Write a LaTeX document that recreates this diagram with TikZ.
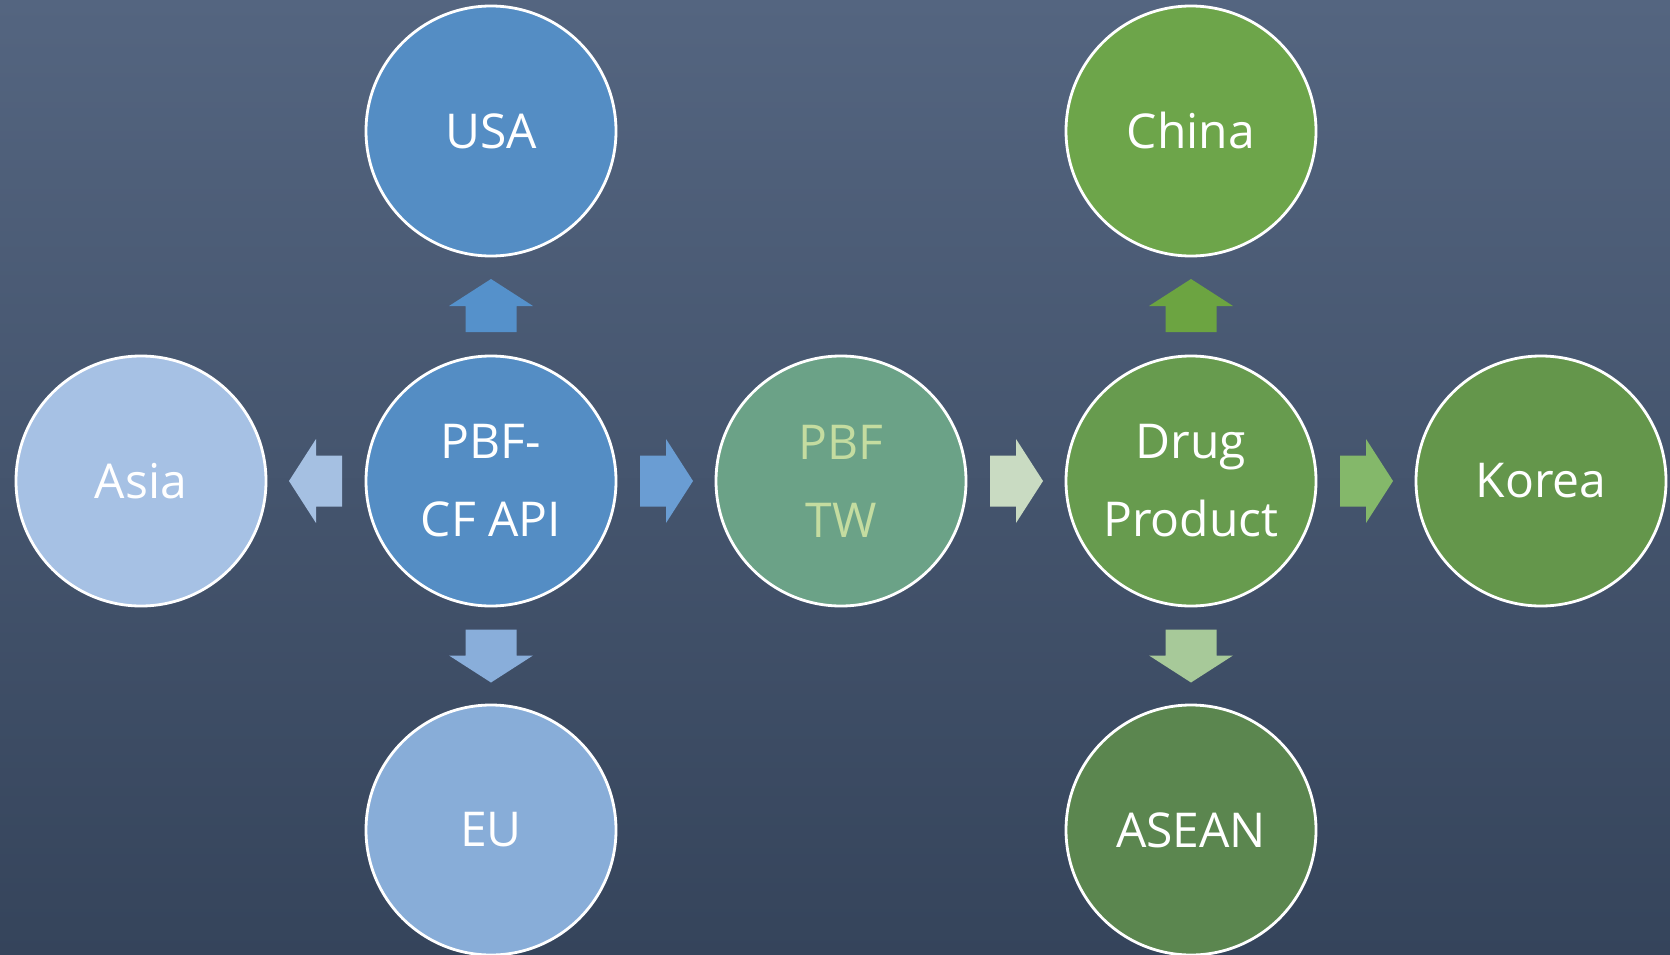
\documentclass[tikz,border=0pt]{standalone}
\usepackage{fontspec}
\setmainfont{Open Sans}
\usetikzlibrary{calc}
\definecolor{bgtop}{HTML}{546580}
\definecolor{bgbot}{HTML}{35445B}
\definecolor{cBlue}{HTML}{548DC4}
\definecolor{cAsia}{HTML}{A6C1E4}
\definecolor{cEU}{HTML}{88ADD8}
\definecolor{cTW}{HTML}{6BA287}
\definecolor{cTWtext}{HTML}{C4DCA0}
\definecolor{cDrug}{HTML}{679B4E}
\definecolor{cChina}{HTML}{6DA54A}
\definecolor{cKorea}{HTML}{64964B}
\definecolor{cASEAN}{HTML}{5B864F}
\definecolor{aUSA}{HTML}{5591CB}
\definecolor{aAsia}{HTML}{A5C0E2}
\definecolor{aTW}{HTML}{6A9DD3}
\definecolor{aEU}{HTML}{89AEDA}
\definecolor{aDrug}{HTML}{C9DBC2}
\definecolor{aChina}{HTML}{6CA441}
\definecolor{aKorea}{HTML}{84B86A}
\definecolor{aASEAN}{HTML}{A7C999}
\newcommand\bubblefont{\fontsize{48}{78}\selectfont}
\newcommand\flowarrow[4]{%
  \begin{scope}[shift={($(#1)!0.5!(#2)$)}, rotate=#3]
    \fill[#4] (-26,-25.5) -- (0,-25.5) -- (0,-42) -- (27,0) -- (0,42) -- (0,25.5) -- (-26,25.5) -- cycle;
  \end{scope}}
\tikzset{
  bubble/.style={circle, draw=white, line width=2.8pt, minimum size=250pt, inner sep=0pt,
    text=white, align=center, font=\bubblefont}
}
\begin{document}
\begin{tikzpicture}[x=1pt,y=-1pt]
\shade[top color=bgtop, bottom color=bgbot] (0,0) rectangle (1670,955);
\useasboundingbox (0,0) rectangle (1670,955);
\node[bubble, fill=cBlue]  (api)   at (491,481) {PBF-\\CF API};
\node[bubble, fill=cBlue]  (usa)   at (491,131) {USA};
\node[bubble, fill=cEU]    (eu)    at (491,830) {EU};
\node[bubble, fill=cAsia]  (asia)  at (141,481) {Asia};
\node[bubble, fill=cTW, text=cTWtext] (tw) at (841,481) {PBF\\TW};
\node[bubble, fill=cDrug]  (drug)  at (1191,481) {Drug\\Product};
\node[bubble, fill=cChina] (china) at (1191,131) {China};
\node[bubble, fill=cASEAN] (asean) at (1191,830) {ASEAN};
\node[bubble, fill=cKorea] (korea) at (1541,481) {Korea};
\flowarrow{api}{usa}{90}{aUSA}
\flowarrow{api}{asia}{180}{aAsia}
\flowarrow{api}{tw}{0}{aTW}
\flowarrow{api}{eu}{-90}{aEU}
\flowarrow{tw}{drug}{0}{aDrug}
\flowarrow{drug}{china}{90}{aChina}
\flowarrow{drug}{korea}{0}{aKorea}
\flowarrow{drug}{asean}{-90}{aASEAN}
\end{tikzpicture}
\end{document}
